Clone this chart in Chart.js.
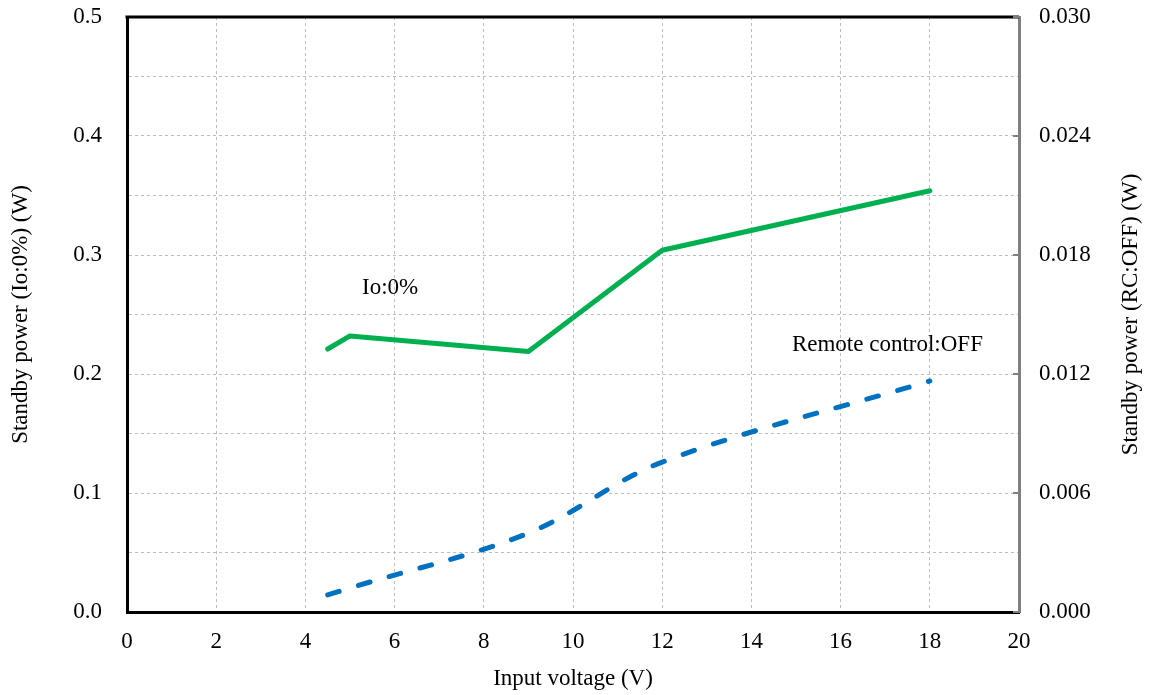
<!DOCTYPE html>
<html>
<head>
<meta charset="utf-8">
<script src="https://cdn.jsdelivr.net/npm/chart.js@4.4.0/dist/chart.umd.min.js"></script>
<style>
  html, body { margin: 0; padding: 0; background: #fff; }
  #wrap { width: 1149px; height: 695px; }
</style>
</head>
<body>
<div id="wrap"><canvas id="chart" width="1149" height="695"></canvas></div>
<script>
// Input voltage (V)
const voltages = [4.5, 5, 9, 12, 18];
// Standby power, Io:0% (W) - left axis
const powerIo0 = [0.221, 0.232, 0.219, 0.304, 0.354];
// Standby power, remote control OFF (W) - right axis
const powerRcOff = [0.00086, 0.00121, 0.00398, 0.00756, 0.01165];

const xTicks = [0, 2, 4, 6, 8, 10, 12, 14, 16, 18, 20];
const leftTicks = [0.0, 0.1, 0.2, 0.3, 0.4, 0.5];
const rightTicks = [0.000, 0.006, 0.012, 0.018, 0.024, 0.030];

const serif = "'Liberation Serif', 'Times New Roman', serif";
const gridColor = "#bdbdbd";
const fontSize = 23;

const toPoints = (xs, ys) => xs.map((x, i) => ({ x: x, y: ys[i] }));

// Frame, right title, inner tick marks and text labels
const extras = {
  id: "extras",
  afterDraw(chart) {
    const { ctx, chartArea: a, scales } = chart;
    ctx.save();
    // top border
    ctx.strokeStyle = "#000";
    ctx.lineWidth = 3;
    ctx.beginPath();
    ctx.moveTo(a.left - 1.5, a.top);
    ctx.lineTo(a.right, a.top);
    ctx.stroke();

    // inward ticks on right axis
    ctx.strokeStyle = "#808080";
    ctx.lineWidth = 2;
    rightTicks.forEach((v) => {
      const y = scales.y2.getPixelForValue(v);
      ctx.beginPath();
      ctx.moveTo(a.right, y);
      ctx.lineTo(a.right - 6, y);
      ctx.stroke();
    });

    // right axis title (reads bottom to top)
    ctx.fillStyle = "#000";
    ctx.font = fontSize + "px " + serif;
    ctx.textAlign = "center";
    ctx.textBaseline = "middle";
    ctx.save();
    ctx.translate(1131, (a.top + a.bottom) / 2);
    ctx.rotate(-Math.PI / 2);
    ctx.fillText("Standby power (RC:OFF) (W)", 0, 0);
    ctx.restore();

    // series labels
    const x = scales.x, y = scales.y;
    ctx.fillText("Io:0%", x.getPixelForValue(5.9), y.getPixelForValue(0.272));
    ctx.fillText("Remote control:OFF", x.getPixelForValue(17.05), y.getPixelForValue(0.224));
    ctx.restore();
  }
};

const fitY = (w) => (s) => {
  s.width = w;
  s.paddingTop = 0;
  s.paddingBottom = 0;
};

new Chart(document.getElementById("chart"), {
  type: "scatter",
  data: {
    datasets: [
      {
        label: "Io:0%",
        data: toPoints(voltages, powerIo0),
        yAxisID: "y",
        showLine: true,
        borderColor: "#00b050",
        borderWidth: 5,
        borderCapStyle: "round",
        borderJoinStyle: "round",
        pointRadius: 0,
        tension: 0
      },
      {
        label: "Remote control:OFF",
        data: toPoints(voltages, powerRcOff),
        yAxisID: "y2",
        showLine: true,
        borderColor: "#0070c0",
        borderWidth: 5,
        borderDash: [12, 20],
        borderCapStyle: "round",
        pointRadius: 0,
        tension: 0.35
      }
    ]
  },
  options: {
    responsive: false,
    animation: false,
    layout: { padding: { top: 17, left: 0, right: 0, bottom: 0 } },
    plugins: {
      legend: { display: false },
      tooltip: { enabled: false }
    },
    scales: {
      x: {
        type: "linear",
        min: xTicks[0],
        max: xTicks[xTicks.length - 1],
        afterBuildTicks: (s) => { s.ticks = xTicks.map((v) => ({ value: v })); },
        afterFit: (s) => { s.height = 83; },
        ticks: {
          color: "#000",
          font: { family: serif, size: fontSize },
          padding: 16,
          maxRotation: 0
        },
        grid: { color: gridColor, drawTicks: false, tickLength: 0 },
        border: { color: "#000", width: 3, dash: [3, 3] },
        title: {
          display: true,
          text: "Input voltage (V)",
          color: "#000",
          font: { family: serif, size: fontSize },
          padding: { top: 4, bottom: 2 }
        }
      },
      y: {
        position: "left",
        min: 0,
        max: 0.5,
        ticks: {
          stepSize: 0.05,
          color: "#000",
          font: { family: serif, size: fontSize },
          padding: 25,
          callback: (v) => {
            const hit = leftTicks.find((t) => Math.abs(t - v) < 1e-6);
            return hit === undefined ? "" : hit.toFixed(1);
          }
        },
        afterFit: fitY(127),
        grid: { color: gridColor, drawTicks: false, tickLength: 0 },
        border: { color: "#000", width: 3, dash: [3, 3] },
        title: {
          display: true,
          text: "Standby power (Io:0%) (W)",
          color: "#000",
          font: { family: serif, size: fontSize },
          padding: { top: 7, bottom: 0 }
        }
      },
      y2: {
        position: "right",
        min: 0,
        max: 0.03,
        afterBuildTicks: (s) => { s.ticks = rightTicks.map((v) => ({ value: v })); },
        afterFit: fitY(130),
        ticks: {
          color: "#000",
          font: { family: serif, size: fontSize },
          padding: 20,
          callback: (v) => v.toFixed(3)
        },
        grid: { drawOnChartArea: false, drawTicks: false, tickLength: 0 },
        border: { color: "#808080", width: 3 }
      }
    }
  },
  plugins: [extras]
});
</script>
</body>
</html>
